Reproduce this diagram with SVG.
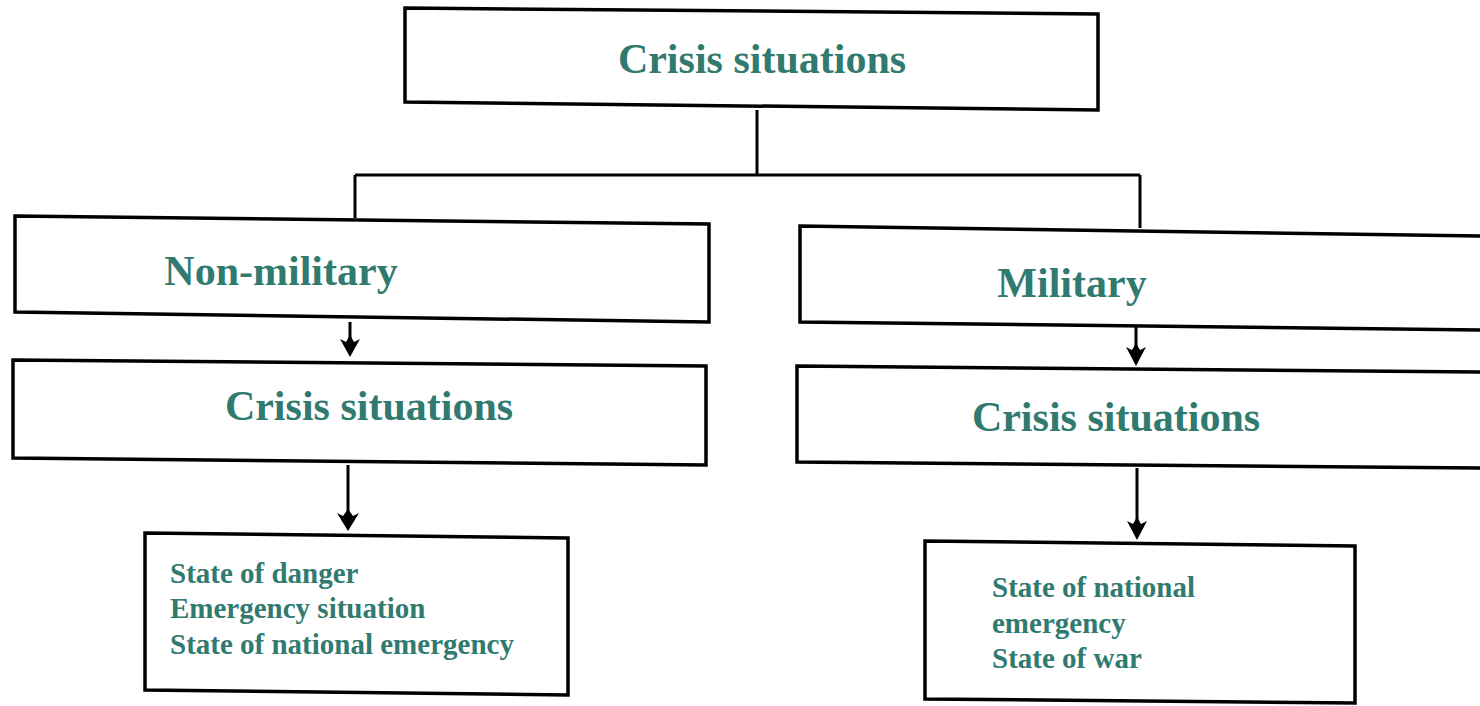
<svg xmlns="http://www.w3.org/2000/svg" width="1480" height="706" viewBox="0 0 1480 706">
<defs>
<style>
.box{fill:#fff;stroke:#000;stroke-width:3.5;stroke-linejoin:miter}
.t{font-family:"Liberation Serif","Times New Roman",serif;font-weight:bold;fill:#317a70}
.big{font-size:42px}
.sm{font-size:29px}
.c{fill:none;stroke:#000;stroke-width:3}
.ah{fill:#000}
</style>
</defs>
<rect width="1480" height="706" fill="#fff"/>
<g id="connectors">
<path class="c" d="M757,110 V175 M355,175 H1140 M355,175 V218 M1140,175 V228"/>
<path class="c" d="M350,322 V342"/>
<path class="ah" d="M340,339 L346,342 L350,335 L354,342 L360,339 L350,357 Z"/>
<path class="c" d="M348,465 V515"/>
<path class="ah" d="M337,513 L343,516 L348,509 L353,516 L359,513 L348,531 Z"/>
<path class="c" d="M1136,326 V350"/>
<path class="ah" d="M1126,347 L1132,350 L1136,343 L1140,350 L1146,347 L1136,366 Z"/>
<path class="c" d="M1137,468 V524"/>
<path class="ah" d="M1127,521 L1133,524 L1137,517 L1141,524 L1147,521 L1137,540 Z"/>
</g>
<g id="n-top">
<polygon class="box" points="405,8 1098,14 1098,110 405,102"/>
<text class="t big" x="762" y="73" text-anchor="middle">Crisis situations</text>
</g>
<g id="n-nonmilitary">
<polygon class="box" points="15,216 709,224 709,322 15,312"/>
<text class="t big" x="281" y="285" text-anchor="middle">Non-military</text>
</g>
<g id="n-crisis-left">
<polygon class="box" points="13,360 706,366 706,465 13,458"/>
<text class="t big" x="369" y="420" text-anchor="middle">Crisis situations</text>
</g>
<g id="n-left-list">
<polygon class="box" points="145,533 568,538 568,695 145,690"/>
<text class="t sm" x="170" y="583">State of danger</text>
<text class="t sm" x="170" y="618">Emergency situation</text>
<text class="t sm" x="170" y="654">State of national emergency</text>
</g>
<g id="n-military">
<polygon class="box" points="800,226 1482,236 1482,330 800,322"/>
<text class="t big" x="1072" y="297" text-anchor="middle">Military</text>
</g>
<g id="n-crisis-right">
<polygon class="box" points="797,366 1482,372 1482,468 797,462"/>
<text class="t big" x="1116" y="431" text-anchor="middle">Crisis situations</text>
</g>
<g id="n-right-list">
<polygon class="box" points="925,541 1355,546 1355,703 925,699"/>
<text class="t sm" x="992" y="597">State of national</text>
<text class="t sm" x="992" y="633">emergency</text>
<text class="t sm" x="992" y="668">State of war</text>
</g>
</svg>
